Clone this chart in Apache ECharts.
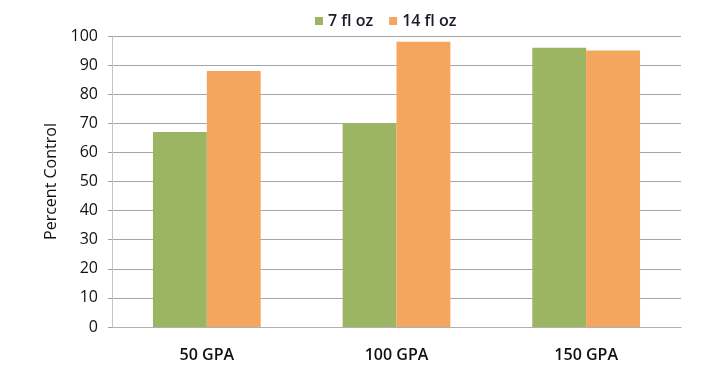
<!DOCTYPE html>
<html><head><meta charset="utf-8">
<script src="https://cdn.jsdelivr.net/npm/echarts@6/dist/echarts.min.js"></script>
<style>html,body{margin:0;padding:0;background:#fff}#c{width:701px;height:371px}</style>
</head><body><div id="c"></div>
<script>
var categories = ['50 GPA', '100 GPA', '150 GPA'];
var seriesNames = ['7 fl oz', '14 fl oz'];
var values7 = [67, 70, 96];
var values14 = [88, 98, 95];
var yTicks = [0, 10, 20, 30, 40, 50, 60, 70, 80, 90, 100];

var chart = echarts.init(document.getElementById('c'));
chart.setOption({
  animation: false,
  textStyle: { fontFamily: 'Open Sans, Noto Sans, sans-serif' },
  legend: {
    top: 8, left: 310, itemWidth: 8, itemHeight: 8, itemGap: 16,
    icon: 'rect',
    textStyle: { fontSize: 16, color: '#1a1a2a', fontWeight: 600, fontFamily: 'Open Sans' },
    data: seriesNames
  },
  grid: { left: 112, right: 20, top: 36, bottom: 44 },
  xAxis: {
    type: 'category', data: categories,
    axisLine: { lineStyle: { color: '#b0b0b0' } },
    axisTick: { show: false },
    axisLabel: { fontSize: 16, color: '#111', fontWeight: 600, margin: 20 }
  },
  yAxis: {
    type: 'value', min: yTicks[0], max: yTicks[yTicks.length - 1], interval: 10,
    name: 'Percent Control', nameLocation: 'middle', nameGap: 52,
    nameTextStyle: { fontSize: 16, color: '#111' },
    axisLine: { show: true, lineStyle: { color: '#c4c4c4' } },
    axisTick: { show: true, length: 4, lineStyle: { color: '#a0a0a0' } },
    axisLabel: { fontSize: 16, color: '#111', margin: 14 },
    splitLine: { lineStyle: { color: '#a6a6a6', width: 1 } }
  },
  series: [
    { name: seriesNames[0], type: 'bar', data: values7, barWidth: '28.4%', barGap: '0%',
      itemStyle: { color: '#9bb563' } },
    { name: seriesNames[1], type: 'bar', data: values14, barWidth: '28.4%',
      itemStyle: { color: '#f4a55e' } }
  ]
});
</script></body></html>
